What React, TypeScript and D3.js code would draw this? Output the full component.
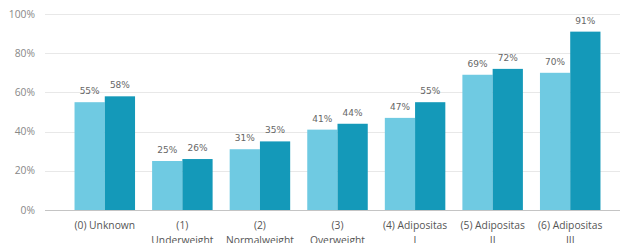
import React, { useRef, useEffect } from "react";
import * as d3 from "d3";

const categories = [
  "(0) Unknown",
  "(1) Underweight",
  "(2) Normalweight",
  "(3) Overweight",
  "(4) Adipositas I",
  "(5) Adipositas II",
  "(6) Adipositas III",
];
const seriesA = [55, 25, 31, 41, 47, 69, 70];
const seriesB = [58, 26, 35, 44, 55, 72, 91];
const yTicks = [0, 20, 40, 60, 80, 100];

const App: React.FC = () => {
  const ref = useRef<SVGSVGElement>(null);

  useEffect(() => {
    const width = 624,
      height = 243;
    const svg = d3.select(ref.current).attr("width", width).attr("height", height);
    svg.selectAll("*").remove();

    const y = d3.scaleLinear().domain([0, 100]).range([210, 14]);
    const x = d3.scaleBand<string>().domain(categories).range([66, 609]).paddingInner(0.22).paddingOuter(0.11);
    const inner = d3.scaleBand<string>().domain(["a", "b"]).range([0, x.bandwidth()]);

    const labelFont = "'Open Sans', sans-serif";
    const labelSize = "10.3px";

    // measure-based word wrap
    const probe = svg.append("text").style("font-family", labelFont).style("font-size", labelSize);
    const wrap = (s: string, maxW = 68) => {
      const words = s.split(" ");
      const lines: string[] = [];
      let cur = "";
      words.forEach((w) => {
        const next = cur ? cur + " " + w : w;
        probe.text(next);
        const len = (probe.node() as SVGTextElement).getComputedTextLength();
        if (len > maxW && cur) {
          lines.push(cur);
          cur = w;
        } else cur = next;
      });
      if (cur) lines.push(cur);
      return lines;
    };
    const wrapped = categories.map((c) => wrap(c));
    probe.remove();

    // gridlines
    svg.append("g")
      .selectAll("line")
      .data(yTicks)
      .enter()
      .append("line")
      .attr("x1", 45)
      .attr("x2", 620)
      .attr("y1", (d) => Math.round(y(d)) + 0.5)
      .attr("y2", (d) => Math.round(y(d)) + 0.5)
      .attr("stroke", (d) => (d === 0 ? "#c4c4c4" : "#e8e8e8"))
      .attr("stroke-width", 1);

    svg.append("g")
      .selectAll("text")
      .data(yTicks)
      .enter()
      .append("text")
      .attr("x", 35)
      .attr("y", (d) => y(d) + 3.5)
      .attr("text-anchor", "end")
      .style("font-family", labelFont)
      .style("font-size", "10.3px")
      .style("fill", "#888")
      .text((d) => d + "%");

    const groups = svg.append("g")
      .selectAll("g")
      .data(categories)
      .enter()
      .append("g")
      .attr("transform", (d) => `translate(${x(d)},0)`);

    const series = [
      { key: "a", values: seriesA, color: "#6fcae2" },
      { key: "b", values: seriesB, color: "#1499b9" },
    ];

    series.forEach((s) => {
      groups.append("rect")
        .attr("x", inner(s.key)!)
        .attr("width", inner.bandwidth())
        .attr("y", (_, i) => y(s.values[i]))
        .attr("height", (_, i) => y(0) - y(s.values[i]))
        .attr("fill", s.color);

      groups.append("text")
        .attr("x", inner(s.key)! + inner.bandwidth() / 2)
        .attr("y", (_, i) => y(s.values[i]) - 8)
        .attr("text-anchor", "middle")
        .style("font-family", "'DejaVu Sans', sans-serif")
        .style("font-size", "9px")
        .style("fill", "#666")
        .text((_, i) => s.values[i] + "%");
    });

    // category labels
    groups.append("text")
      .attr("x", x.bandwidth() / 2)
      .attr("y", 229)
      .attr("text-anchor", "middle")
      .style("font-family", labelFont)
      .style("font-size", labelSize)
      .style("fill", "#555")
      .selectAll("tspan")
      .data((_, i) => wrapped[i])
      .enter()
      .append("tspan")
      .attr("x", x.bandwidth() / 2)
      .attr("dy", (_, i) => (i === 0 ? 0 : 15))
      .text((d) => d);
  }, []);

  return (
    <div style={{ position: "absolute", left: 0, top: 0, background: "#fff" }}>
      <svg ref={ref}></svg>
    </div>
  );
};

export default App;
